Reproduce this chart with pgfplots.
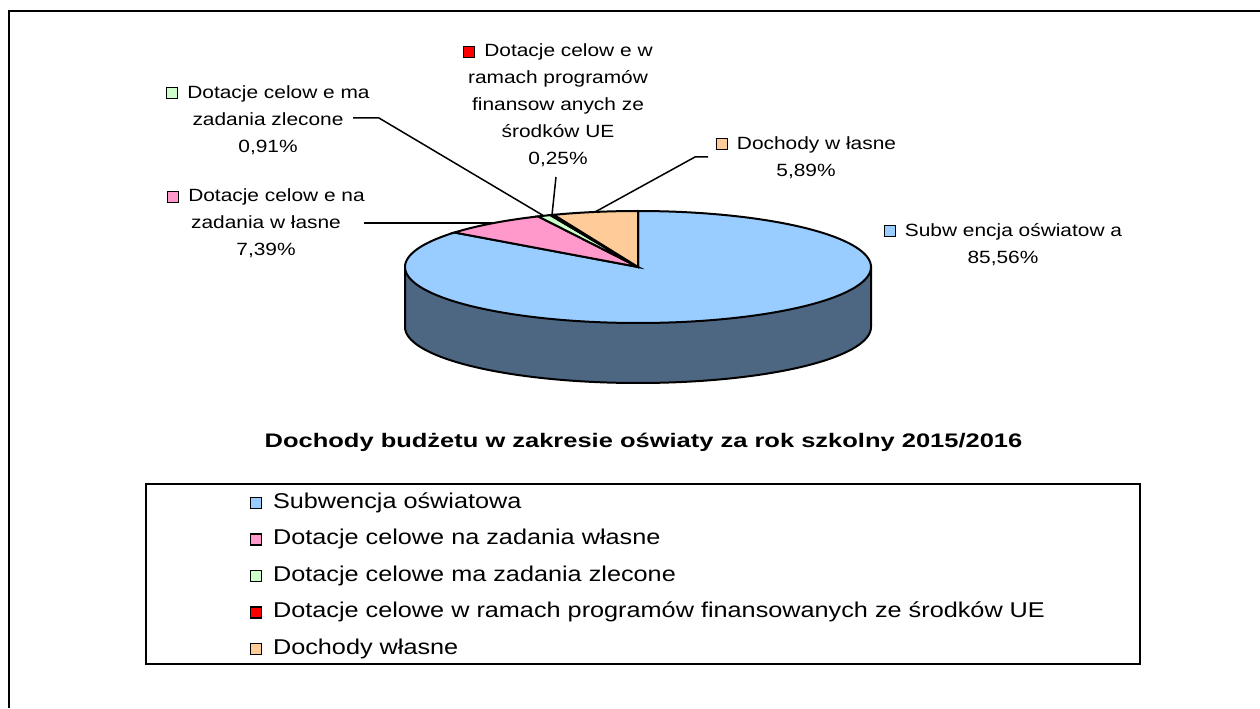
\documentclass[border=0pt]{standalone}
\usepackage{pgfplots}
\pgfplotsset{compat=1.18}
\usepackage{fontspec}
\setmainfont{Liberation Sans}[FakeStretch=1.18]
\newfontfamily\titlefont{Liberation Sans}[FakeStretch=1.3]
\definecolor{cBlue}{HTML}{99CCFF}
\definecolor{cSide}{HTML}{4D6682}
\definecolor{cPink}{HTML}{FF99CC}
\definecolor{cGreen}{HTML}{CCFFCC}
\definecolor{cRed}{HTML}{FF0000}
\definecolor{cOrange}{HTML}{FFCC99}
% data (percent)
\def\pA{85.56}% Subwencja oswiatowa
\def\pB{7.39}%  Dotacje celowe na zadania wlasne
\def\pC{0.91}%  Dotacje celowe ma zadania zlecone
\def\pD{0.25}%  Dotacje celowe w ramach programow UE
\def\pE{5.89}%  Dochody wlasne
\pgfmathsetmacro\aA{90}
\pgfmathsetmacro\aB{\aA-3.6*\pA}
\pgfmathsetmacro\aC{\aB-3.6*\pB}
\pgfmathsetmacro\aD{\aC-3.6*\pC}
\pgfmathsetmacro\aE{\aD-3.6*\pD}
\pgfmathsetmacro\aF{\aE-3.6*\pE}
\setlength{\fboxsep}{0pt}
\setlength{\fboxrule}{0.5pt}
\newcommand\sq[1]{\fcolorbox{black}{#1}{\rule{0pt}{5pt}\rule{5pt}{0pt}}\hspace{4.5pt}}
\newcommand\lbl{\fontsize{8.85}{13.5}\selectfont}
\begin{document}
\begin{tikzpicture}
\begin{axis}[
  scale only axis, width=630pt, height=354pt,
  xmin=0, xmax=1260, ymin=0, ymax=708,
  hide axis, clip=false,
  legend cell align=left,
  legend image code/.code={\draw[#1, line width=0.6pt] (0pt,-2.75pt) rectangle (5.5pt,2.75pt); \path (10.7pt,0pt);},
  legend style={at={(0.5139,0.1864)}, anchor=center, draw=none, fill=none,
    inner sep=0pt, outer sep=0pt, column sep=0pt, row sep=8.25pt,
    font=\fontsize{10.7}{12}\selectfont,
    nodes={inner sep=0pt, text height=7.7pt, text depth=2.3pt}},
]
\path (rel axis cs:0,0) coordinate (BBa) (rel axis cs:1,1) coordinate (BBb);
% side of the pie
\addplot[fill=cSide, draw=black, line width=1pt, domain=180:360, samples=120, variable=\t, forget plot]
  ({638+233*cos(\t)}, {381+56*sin(\t)}) -- (axis cs:871,441) -- (axis cs:405,441) -- cycle;
% slices
\addplot[fill=cBlue, draw=black, line width=1pt, domain=\aB:\aA, samples=200, variable=\t]
  ({638+233*cos(\t)}, {441+56*sin(\t)}) -- (axis cs:638,441) -- cycle;
\addlegendentry{Subwencja oświatowa}
\addplot[fill=cPink, draw=black, line width=1pt, domain=\aC:\aB, samples=30, variable=\t]
  ({638+233*cos(\t)}, {441+56*sin(\t)}) -- (axis cs:638,441) -- cycle;
\addlegendentry{Dotacje celowe na zadania własne}
\addplot[fill=cGreen, draw=black, line width=1pt, domain=\aD:\aC, samples=6, variable=\t]
  ({638+233*cos(\t)}, {441+56*sin(\t)}) -- (axis cs:638,441) -- cycle;
\addlegendentry{Dotacje celowe ma zadania zlecone}
\addplot[fill=cRed, draw=black, line width=1pt, domain=\aE:\aD, samples=3, variable=\t]
  ({638+233*cos(\t)}, {441+56*sin(\t)}) -- (axis cs:638,441) -- cycle;
\addlegendentry{Dotacje celowe w ramach programów finansowanych ze środków UE}
\addplot[fill=cOrange, draw=black, line width=1pt, domain=\aF:\aE, samples=30, variable=\t]
  ({638+233*cos(\t)}, {441+56*sin(\t)}) -- (axis cs:638,441) -- cycle;
\addlegendentry{Dochody własne}
% leader lines
\addplot[black, line width=0.75pt, forget plot] coordinates {(353,590) (379,590) (544,492)};
\addplot[black, line width=0.75pt, forget plot] coordinates {(556,531) (552,493)};
\addplot[black, line width=0.75pt, forget plot] coordinates {(708,551) (695,551) (595,496)};
\addplot[black, line width=0.75pt, forget plot] coordinates {(364,485) (492,485)};
% data labels
\node[align=center, font=\lbl, inner sep=0pt] at (axis cs:268,588) {\sq{cGreen}Dotacje celow e ma\\zadania zlecone\\0,91\%};
\node[align=center, font=\lbl, inner sep=0pt] at (axis cs:558,602.5) {\sq{cRed}Dotacje celow e w\\ramach programów\\finansow anych ze\\środków UE\\0,25\%};
\node[align=center, font=\lbl, inner sep=0pt] at (axis cs:806,550.5) {\sq{cOrange}Dochody w łasne\\5,89\%};
\node[align=center, font=\lbl, inner sep=0pt] at (axis cs:266,484.5) {\sq{cPink}Dotacje celow e na\\zadania w łasne\\7,39\%};
\node[align=center, font=\lbl, inner sep=0pt] at (axis cs:1003,463.5) {\sq{cBlue}Subw encja oświatow a\\85,56\%};
% title
\node[font=\titlefont\bfseries\fontsize{9.8}{11}\selectfont, anchor=base] at (axis cs:643.5,261) {Dochody budżetu w zakresie oświaty za rok szkolny 2015/2016};
% legend frame
\draw[black, line width=0.75pt] (axis cs:146,224) rectangle (axis cs:1140,44);
% outer frame
\draw[black, line width=1.1pt] (axis cs:9,0) -- (axis cs:9,697) -- (axis cs:1260,697);
\end{axis}
\pgfresetboundingbox
\path (BBa) rectangle (BBb);
\end{tikzpicture}
\end{document}
